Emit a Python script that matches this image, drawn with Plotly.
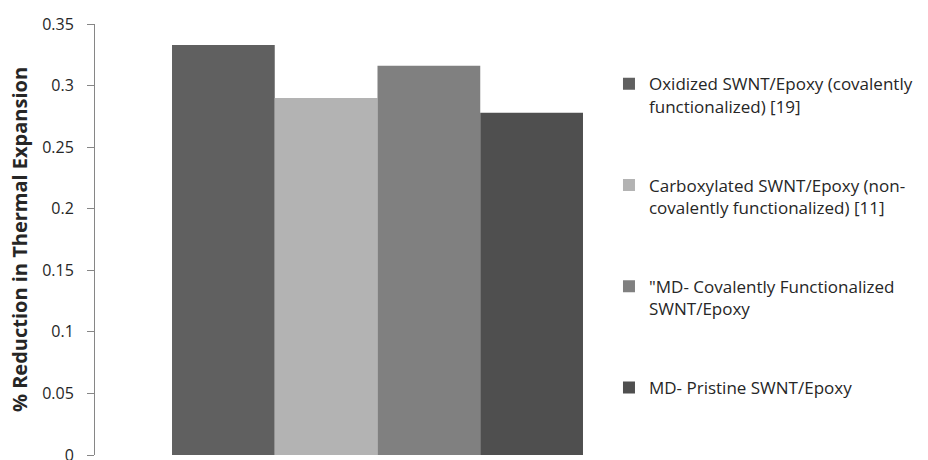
import plotly.graph_objects as go

# Series shown in the grouped bar chart
series_names = [
    "Oxidized SWNT/Epoxy (covalently<br>functionalized) [19]",
    "Carboxylated SWNT/Epoxy (non-<br>covalently functionalized) [11]",
    "\"MD- Covalently Functionalized<br>SWNT/Epoxy",
    "MD- Pristine SWNT/Epoxy",
]
series_values = [0.333, 0.290, 0.316, 0.278]
series_colors = ["#606060", "#b3b3b3", "#808080", "#4f4f4f"]

category = [""]

y_tick_values = [0, 0.05, 0.1, 0.15, 0.2, 0.25, 0.3, 0.35]
y_tick_labels = ["0", "0.05", "0.1", "0.15", "0.2", "0.25", "0.3", "0.35"]

FONT = "Open Sans"

fig = go.Figure()
for i, (name, val, col) in enumerate(zip(series_names, series_values, series_colors)):
    fig.add_trace(go.Bar(
        x=category,
        y=[val],
        name=name,
        marker=dict(color=col, line=dict(width=0)),
        legendgroup=f"g{i}",
        hoverinfo="skip",
    ))

fig.update_layout(
    width=928,
    height=460,
    margin=dict(l=95, r=268, t=24, b=5),
    paper_bgcolor="white",
    plot_bgcolor="white",
    barmode="group",
    bargap=0.2726,
    bargroupgap=0,
    font=dict(family=FONT, size=16, color="#262626"),
    showlegend=True,
    legend=dict(
        x=0.9097,
        xanchor="left",
        y=0.902,
        yanchor="top",
        valign="top",
        traceorder="grouped",
        tracegroupgap=54,
        font=dict(family=FONT, size=17, color="#262626"),
        bgcolor="rgba(0,0,0,0)",
        borderwidth=0,
    ),
    xaxis=dict(
        showticklabels=False,
        showline=False,
        showgrid=False,
        zeroline=False,
        ticks="",
    ),
    yaxis=dict(
        range=[0, 0.35],
        tickmode="array",
        tickvals=y_tick_values,
        ticktext=y_tick_labels,
        showline=True,
        linecolor="#868686",
        linewidth=1,
        ticks="outside",
        ticklen=7,
        tickcolor="#868686",
        tickwidth=1,
        showgrid=False,
        zeroline=False,
        ticklabelstandoff=10,
        ticklabeloverflow="allow",
        tickfont=dict(family=FONT, size=16, color="#262626"),
        automargin=False,
        title=dict(
            text="<b>% Reduction in Thermal Expansion</b>",
            font=dict(family=FONT, size=20, color="#262626"),
            standoff=9,
        ),
    ),
)

fig.write_html("out.html")
